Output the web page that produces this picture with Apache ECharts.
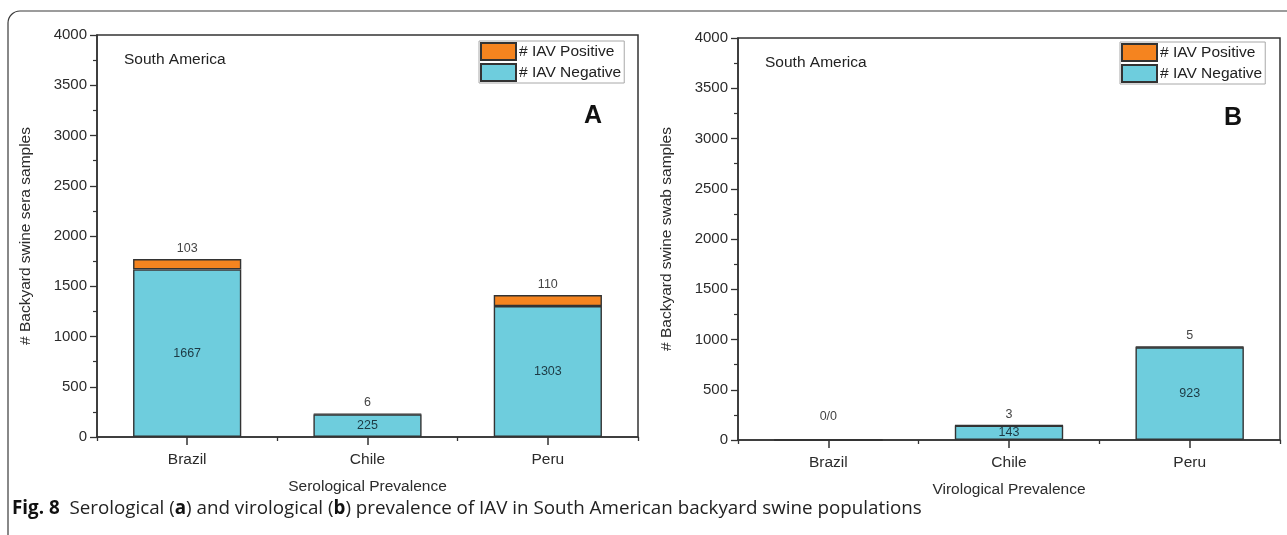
<!DOCTYPE html>
<html>
<head>
<meta charset="utf-8">
<script src="https://cdn.jsdelivr.net/npm/echarts@6/dist/echarts.min.js"></script>
<style>
  html, body { margin: 0; padding: 0; background: #ffffff; }
  #chart { width: 1287px; height: 535px; }
</style>
</head>
<body>
<div id="chart"></div>
<script>
// Countries on the category axis
const countries = ['Brazil', 'Chile', 'Peru'];

// Panel A: serological results (sera samples)
const seroNegative = [1667, 225, 1303];
const seroPositive = [103, 6, 110];

// Panel B: virological results (swab samples)
const viroNegative = [0, 143, 923];
const viroPositive = [0, 3, 5];

// Value axis ticks
const yMin = 0;
const yMax = 4000;
const yStep = 500;

const FONT = '"Liberation Sans", Arial, Helvetica, sans-serif';
const INK = '#2b2b2b';
const NEG_COLOR = '#6ecddd';
const POS_COLOR = '#f5841f';
const BAR_EDGE = '#333333';

const chart = echarts.init(document.getElementById('chart'), null, { renderer: 'canvas' });

function valueAxis(gridIndex, title) {
  return {
    type: 'value',
    gridIndex: gridIndex,
    min: yMin,
    max: yMax,
    interval: yStep,
    name: title,
    nameLocation: 'middle',
    nameGap: 63,
    nameTextStyle: { fontFamily: FONT, fontSize: 15.5, color: INK },
    axisLine: { show: true, lineStyle: { color: BAR_EDGE, width: 1.5 } },
    axisTick: { show: true, inside: false, length: 7, lineStyle: { color: BAR_EDGE, width: 1.3 } },
    minorTick: { show: true, splitNumber: 2, length: 4, lineStyle: { color: BAR_EDGE, width: 1.2 } },
    splitLine: { show: false },
    minorSplitLine: { show: false },
    axisLabel: { fontFamily: FONT, fontSize: 15, color: INK, margin: 10, formatter: v => String(v) }
  };
}

function categoryAxis(gridIndex, title) {
  return {
    type: 'category',
    gridIndex: gridIndex,
    data: countries,
    position: 'bottom',
    name: title,
    nameLocation: 'middle',
    nameGap: 42,
    nameTextStyle: { fontFamily: FONT, fontSize: 15.5, color: INK },
    axisLine: { show: true, lineStyle: { color: BAR_EDGE, width: 1.5 } },
    axisTick: { show: true, alignWithLabel: true, length: 8, lineStyle: { color: BAR_EDGE, width: 1.5 } },
    axisLabel: { fontFamily: FONT, fontSize: 15.5, color: INK, margin: 15 },
    splitLine: { show: false }
  };
}

// Short ticks on the category boundaries
function boundaryAxis(gridIndex) {
  return {
    type: 'category',
    gridIndex: gridIndex,
    data: countries,
    position: 'bottom',
    axisLine: { show: false },
    axisTick: { show: true, alignWithLabel: false, length: 4, lineStyle: { color: BAR_EDGE, width: 1.3 } },
    axisLabel: { show: false },
    splitLine: { show: false }
  };
}

function stackedPair(xIdx, yIdx, negative, positive) {
  return [
    {
      name: '# IAV Negative',
      type: 'bar',
      stack: 'panel' + yIdx,
      xAxisIndex: xIdx,
      yAxisIndex: yIdx,
      barWidth: '60%',
      data: negative,
      itemStyle: { color: NEG_COLOR, borderColor: BAR_EDGE, borderWidth: 1.4 },
      label: {
        show: true,
        position: 'inside',
        fontFamily: FONT,
        fontSize: 12.5,
        color: '#1d3a44',
        formatter: p => (p.value > 0 ? String(p.value) : '')
      },
      emphasis: { disabled: true }
    },
    {
      name: '# IAV Positive',
      type: 'bar',
      stack: 'panel' + yIdx,
      xAxisIndex: xIdx,
      yAxisIndex: yIdx,
      barWidth: '60%',
      data: positive.map((v, i) => {
        const total = v + negative[i];
        return total === 0
          ? { value: v, label: { offset: [0, -12] } }
          : v;
      }),
      itemStyle: { color: POS_COLOR, borderColor: BAR_EDGE, borderWidth: 1.4 },
      label: {
        show: true,
        position: 'top',
        distance: 4,
        fontFamily: FONT,
        fontSize: 12.5,
        color: '#444444',
        formatter: p => {
          const total = p.value + negative[p.dataIndex];
          return total === 0 ? p.value + '/' + total : String(p.value);
        }
      },
      emphasis: { disabled: true }
    }
  ];
}

function legendAt(left, top) {
  return {
    left: left,
    top: top,
    orient: 'vertical',
    data: [
      { name: '# IAV Positive', icon: 'rect' },
      { name: '# IAV Negative', icon: 'rect' }
    ],
    itemWidth: 35,
    itemHeight: 17,
    itemGap: 2,
    padding: [1, 3, 1, 1],
    borderColor: '#a8a8a8',
    borderWidth: 1,
    selectedMode: false,
    textStyle: { fontFamily: FONT, fontSize: 15.5, color: '#222222', padding: [0, 0, 0, -2] }
  };
}

const option = {
  backgroundColor: '#ffffff',
  animation: false,
  grid: [
    { left: 97, top: 35, width: 541, height: 402, show: true, borderColor: BAR_EDGE, borderWidth: 1.5, backgroundColor: 'transparent' },
    { left: 738, top: 38, width: 542, height: 402, show: true, borderColor: BAR_EDGE, borderWidth: 1.5, backgroundColor: 'transparent' }
  ],
  xAxis: [
    categoryAxis(0, 'Serological Prevalence'),
    categoryAxis(1, 'Virological Prevalence'),
    boundaryAxis(0),
    boundaryAxis(1)
  ],
  yAxis: [
    valueAxis(0, '# Backyard swine sera samples'),
    valueAxis(1, '# Backyard swine swab samples')
  ],
  legend: [legendAt(479, 41), legendAt(1120, 42)],
  series: [
    ...stackedPair(0, 0, seroNegative, seroPositive),
    ...stackedPair(1, 1, viroNegative, viroPositive)
  ],
  graphic: [
    // figure frame with rounded top-left corner
    {
      type: 'rect',
      shape: { x: 8, y: 11, width: 1400, height: 560, r: [12, 0, 0, 0] },
      style: { fill: 'none', stroke: '#3a3a3a', lineWidth: 1.2 },
      silent: true
    },
    { type: 'text', left: 124, top: 52, style: { text: 'South America', font: '15.5px ' + FONT, fill: '#222222' } },
    { type: 'text', left: 765, top: 55, style: { text: 'South America', font: '15.5px ' + FONT, fill: '#222222' } },
    { type: 'text', left: 584, top: 104, style: { text: 'A', font: 'bold 25px ' + FONT, fill: '#111111' } },
    { type: 'text', left: 1224, top: 106, style: { text: 'B', font: 'bold 25px ' + FONT, fill: '#111111' } },
    {
      type: 'text',
      left: 12,
      top: 499,
      style: {
        text: '{b|Fig. 8}  Serological ({b|a}) and virological ({b|b}) prevalence of IAV in South American backyard swine populations',
        font: '18.8px "Open Sans", sans-serif',
        fill: '#222222',
        rich: {
          b: { fontFamily: '"Open Sans", sans-serif', fontWeight: 'bold', fontSize: 18.8, fill: '#111111', color: '#111111' }
        }
      }
    }
  ]
};

chart.setOption(option);
</script>
</body>
</html>
